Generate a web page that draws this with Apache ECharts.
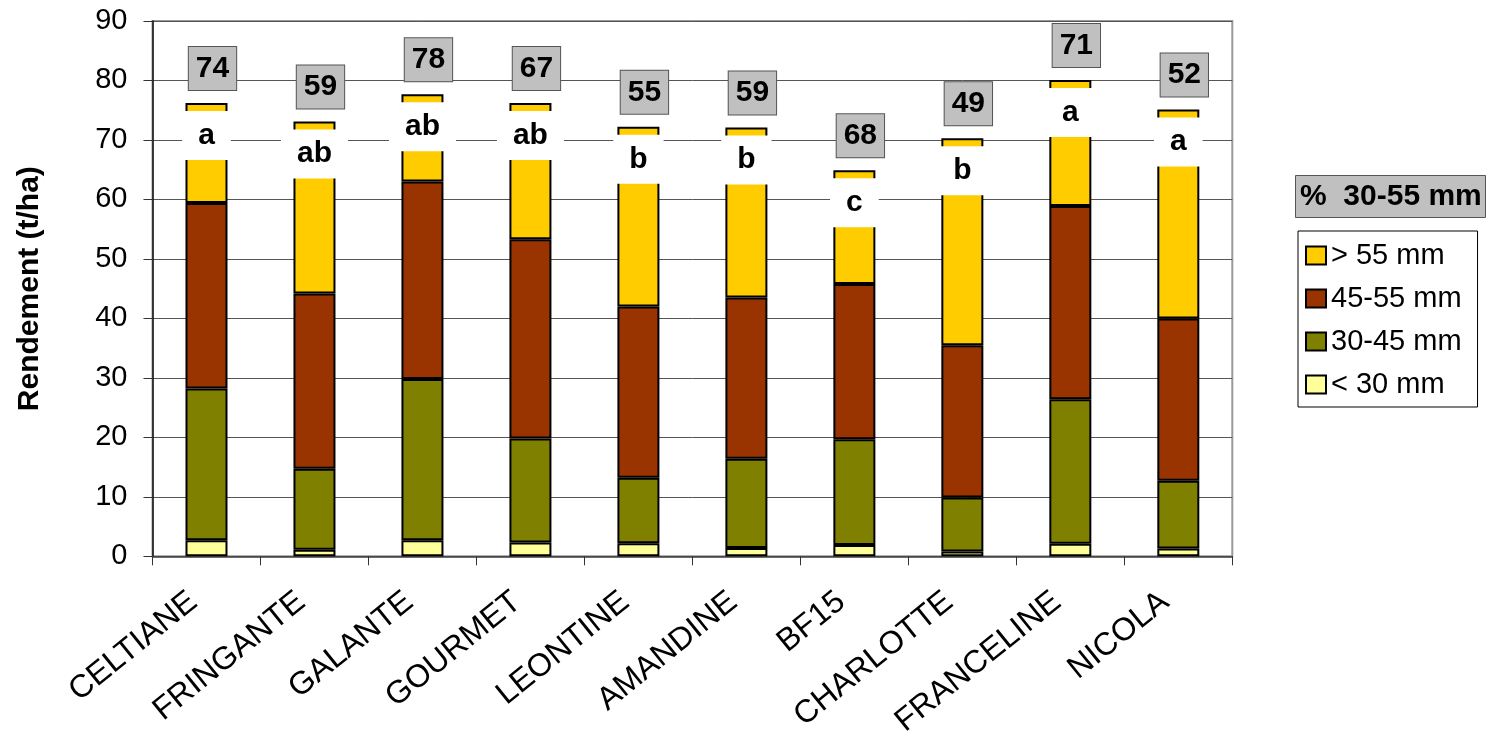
<!DOCTYPE html>
<html>
<head>
<meta charset="utf-8">
<script src="https://cdn.jsdelivr.net/npm/echarts@6/dist/echarts.min.js"></script>
<style>
html,body{margin:0;padding:0;background:#fff;}
#chart{width:1490px;height:736px;}
</style>
</head>
<body>
<div id="chart"></div>
<script>
var categories = ['CELTIANE','FRINGANTE','GALANTE','GOURMET','LEONTINE','AMANDINE','BF15','CHARLOTTE','FRANCELINE','NICOLA'];
var under30 = [2.7, 1.1, 2.7, 2.3, 2.2, 1.4, 1.9, 0.8, 2.1, 1.3];
var s30to45 = [25.5, 13.6, 27.1, 17.5, 11.0, 15.0, 17.8, 9.1, 24.3, 11.4];
var s45to55 = [31.2, 29.5, 33.2, 33.5, 28.8, 27.1, 26.1, 25.6, 32.5, 27.3];
var over55 = [16.8, 28.9, 14.7, 22.9, 30.2, 28.6, 19.1, 34.8, 21.2, 35.1];
var pct3055 = [74, 59, 78, 67, 55, 59, 68, 49, 71, 52];
var letters = ['a','ab','ab','ab','b','b','c','b','a','a'];
var yTicks = {min: 0, max: 90, interval: 10};
var seriesNames = ['< 30 mm', '30-45 mm', '45-55 mm', '> 55 mm'];
var legendTitle = '%  30-55 mm';
var yTitle = 'Rendement (t/ha)';

var totals = categories.map(function(c, i){
  return under30[i] + s30to45[i] + s45to55[i] + over55[i];
});

var FONT = '"Liberation Sans", Arial, sans-serif';
var colors = ['#FFFF99', '#808000', '#993300', '#FFCC00'];
var seriesData = [under30, s30to45, s45to55, over55];

var chart = echarts.init(document.getElementById('chart'), null, {renderer: 'canvas'});

var series = seriesData.map(function(d, k){
  var s = {
    name: seriesNames[k],
    type: 'bar',
    stack: 'total',
    barWidth: 42,
    data: d,
    itemStyle: {color: colors[k], borderColor: '#000', borderWidth: 2},
    emphasis: {disabled: true},
    z: 2
  };
  if (k === 3) {
    s.label = {
      show: true,
      position: 'insideTop',
      distance: 8,
      formatter: function(p){ return letters[p.dataIndex]; },
      fontFamily: FONT,
      fontSize: 30,
      fontWeight: 'bold',
      color: '#000',
      backgroundColor: '#ffffff',
      padding: [9, 16, 9, 16],
      lineHeight: 31
    };
  }
  return s;
});

series.push({
  name: 'pct',
  type: 'scatter',
  data: totals,
  symbolSize: 0,
  silent: true,
  z: 5,
  itemStyle: {opacity: 1},
  emphasis: {disabled: true},
  label: {
    show: true,
    position: 'top',
    distance: 13,
    offset: [6, 0],
    formatter: function(p){ return String(pct3055[p.dataIndex]); },
    fontFamily: FONT,
    fontSize: 30,
    fontWeight: 'bold',
    color: '#000',
    opacity: 1,
    backgroundColor: '#c0c0c0',
    borderColor: '#555',
    borderWidth: 1,
    padding: [6, 7, 6, 7],
    lineHeight: 31
  }
});

var option = {
  animation: false,
  backgroundColor: '#ffffff',
  title: {
    text: legendTitle,
    left: 1295,
    top: 175,
    padding: [6, 4, 6, 5],
    backgroundColor: '#c0c0c0',
    borderColor: '#555',
    borderWidth: 1,
    textStyle: {fontFamily: FONT, fontSize: 30, fontWeight: 'bold', color: '#000', lineHeight: 31}
  },
  legend: {
    orient: 'vertical',
    left: 1298,
    top: 231,
    data: ['> 55 mm', '45-55 mm', '30-45 mm', '< 30 mm'],
    icon: 'rect',
    itemWidth: 20,
    itemHeight: 18,
    itemGap: 14,
    padding: [10, 16, 8, 7],
    borderColor: '#000',
    borderWidth: 1,
    backgroundColor: '#fff',
    selectedMode: false,
    textStyle: {fontFamily: FONT, fontSize: 29, color: '#000'}
  },
  grid: {
    left: 152.5,
    right: 257.7,
    top: 21,
    bottom: 179.7,
    outerBoundsMode: 'none',
    containLabel: false,
    show: true,
    borderColor: '#999',
    borderWidth: 2,
    backgroundColor: 'transparent'
  },
  xAxis: {
    type: 'category',
    data: categories,
    boundaryGap: true,
    axisLine: {show: true, lineStyle: {color: '#444', width: 1.5}},
    axisTick: {show: true, length: 9, lineStyle: {color: '#333', width: 1}, alignWithLabel: false},
    axisLabel: {
      interval: 0,
      rotate: 39,
      margin: 31,
      padding: [0, 17, 0, 0],
      fontFamily: FONT,
      fontSize: 32,
      color: '#000'
    },
    splitLine: {show: false}
  },
  yAxis: {
    type: 'value',
    min: yTicks.min,
    max: yTicks.max,
    interval: yTicks.interval,
    name: yTitle,
    nameLocation: 'middle',
    nameRotate: 90,
    nameGap: 108,
    nameMoveOverlap: false,
    nameTextStyle: {fontFamily: FONT, fontSize: 30, fontWeight: 'bold', color: '#000'},
    axisLine: {show: true, lineStyle: {color: '#111', width: 1.5}},
    axisTick: {show: true, inside: false, length: 9, lineStyle: {color: '#333'}},
    axisLabel: {margin: 25, fontFamily: FONT, fontSize: 29, color: '#000'},
    splitLine: {show: true, lineStyle: {color: '#555', width: 1}}
  },
  series: series
};

chart.setOption(option);
</script>
</body>
</html>
